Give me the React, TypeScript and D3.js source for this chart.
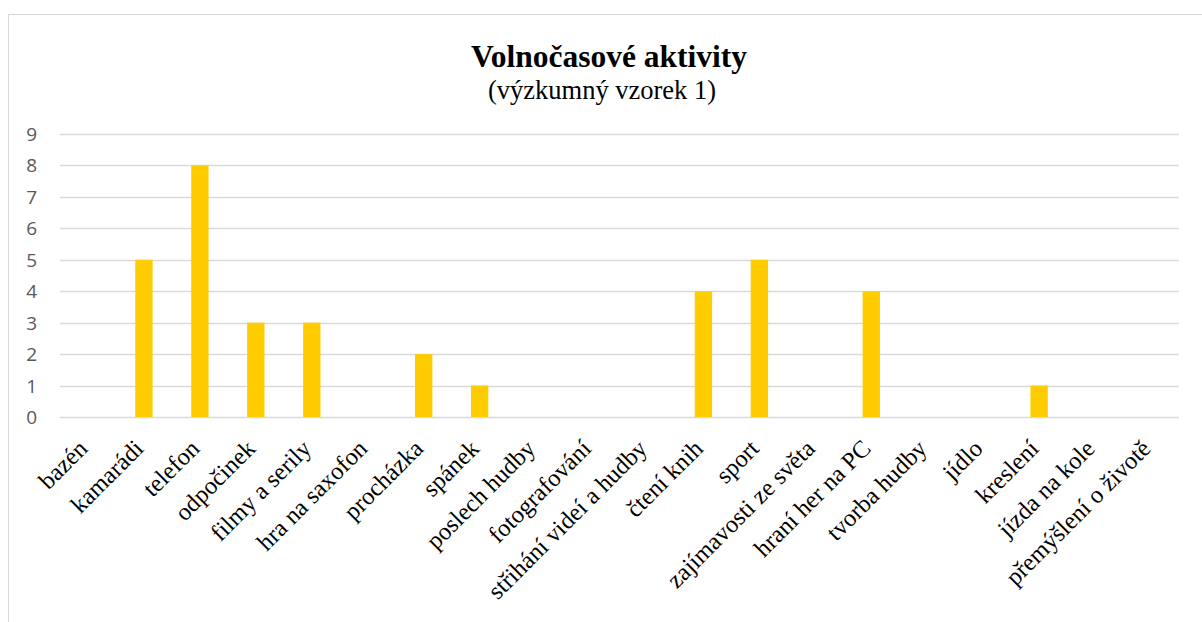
import { useEffect, useRef } from 'react';
import * as d3 from 'd3';

const CATEGORIES = [
  'bazén', 'kamarádi', 'telefon', 'odpočinek', 'filmy a serily', 'hra na saxofon',
  'procházka', 'spánek', 'poslech hudby', 'fotografování', 'střihání videí a hudby',
  'čtení knih', 'sport', 'zajímavosti ze světa', 'hraní her na PC', 'tvorba hudby',
  'jídlo', 'kreslení', 'jízda na kole', 'přemýšlení o životě',
];
const VALUES = [0, 5, 8, 3, 3, 0, 2, 1, 0, 0, 0, 4, 5, 0, 4, 0, 0, 1, 0, 0];
const Y_TICKS = [0, 1, 2, 3, 4, 5, 6, 7, 8, 9];

export default function App() {
  const svgRef = useRef<SVGSVGElement>(null);

  useEffect(() => {
    if (!svgRef.current) return;
    const width = 1202;
    const height = 622;
    const svg = d3.select(svgRef.current);
    svg.selectAll('*').remove();
    svg.attr('width', width).attr('height', height);

    // chart area border
    svg.append('rect')
      .attr('x', 8.5).attr('y', 14.5)
      .attr('width', 1200).attr('height', 700)
      .attr('fill', '#fff')
      .attr('stroke', '#d9d9d9')
      .attr('stroke-width', 1);

    const x = d3.scaleBand<string>().domain(CATEGORIES).range([60, 1179]).paddingInner(0.69).paddingOuter(0.345);
    const y = d3.scaleLinear().domain([0, 9]).range([417, 134]);

    // gridlines
    svg.append('g').selectAll('line').data(Y_TICKS).join('line')
      .attr('x1', 60).attr('x2', 1179)
      .attr('y1', (d) => Math.round(y(d)) + 0.5).attr('y2', (d) => Math.round(y(d)) + 0.5)
      .attr('stroke', '#d9d9d9').attr('stroke-width', 1.5);

    svg.append('g').selectAll('text').data(Y_TICKS).join('text')
      .attr('x', 37).attr('y', (d) => y(d))
      .attr('text-anchor', 'end')
      .attr('dominant-baseline', 'central')
      .attr('font-family', 'Open Sans, sans-serif')
      .attr('font-size', '19px')
      .attr('fill', '#595959')
      .text((d) => d);

    svg.append('g').selectAll('rect').data(VALUES).join('rect')
      .attr('x', (_, i) => x(CATEGORIES[i])!)
      .attr('width', x.bandwidth())
      .attr('y', (d) => y(d))
      .attr('height', (d) => y(0) - y(d))
      .attr('fill', '#ffcc00');

    // rotated category labels
    svg.append('g').selectAll('text').data(CATEGORIES).join('text')
      .attr('transform', (d) => `translate(${x(d)! + x.bandwidth() / 2 + 1},${450}) rotate(-45)`)
      .attr('text-anchor', 'end')
      .attr('font-family', 'Liberation Serif, Times New Roman, serif')
      .attr('font-size', '24.5px')
      .attr('fill', '#000')
      .text((d) => d);

    svg.append('text')
      .attr('x', 609).attr('y', 67)
      .attr('text-anchor', 'middle')
      .attr('font-family', 'Liberation Serif, Times New Roman, serif')
      .attr('font-weight', 'bold')
      .attr('font-size', '31.5px')
      .text('Volnočasové aktivity');

    svg.append('text')
      .attr('x', 602).attr('y', 99)
      .attr('text-anchor', 'middle')
      .attr('font-family', 'Liberation Serif, Times New Roman, serif')
      .attr('font-size', '26.5px')
      .text('(výzkumný vzorek 1)');
  }, []);

  return <svg ref={svgRef} style={{ position: 'absolute', left: 0, top: 0, display: 'block' }} />;
}
